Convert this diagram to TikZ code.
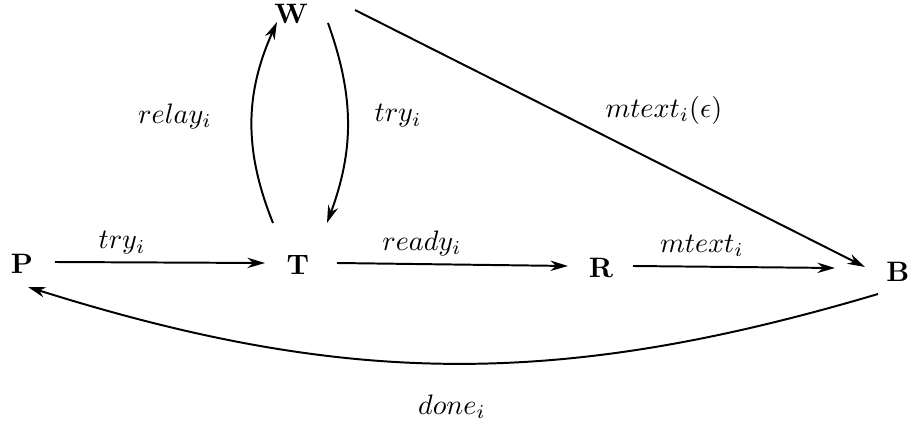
\documentclass[tikz,border=0pt]{standalone}
\usepackage{amsmath,amssymb}
\usetikzlibrary{arrows.meta}

\begin{document}
\begin{tikzpicture}[x=0.0125cm, y=0.0125cm, >={Stealth[length=2.2mm,width=1.3mm]},
	every node/.style={inner sep=0pt}, st/.style={font=\bfseries}, tr/.style={->, line width=0.7pt}]
	\useasboundingbox (0,0) rectangle (911,425);
	% states
	\node[st] (W) at (291,411) {W};
	\node[st] (P) at (22,161) {P};
	\node[st] (T) at (298,160) {T};
	\node[st] (R) at (601,157) {R};
	\node[st] (B) at (898,153) {B};
	% transitions
	\draw[tr] ([shift={(33,2)}]P.center) -- ([shift={(-33,2)}]T.center);
	\draw[tr] ([shift={(39,2)}]T.center) -- ([shift={(-33,2)}]R.center);
	\draw[tr] ([shift={(32,2)}]R.center) -- ([shift={(-63,4)}]B.center);
	\draw[tr] ([shift={(64,4)}]W.center) -- ([shift={(-33,5)}]B.center);
	\draw[tr] ([shift={(-25,42)}]T.center) to[bend left=23] ([shift={(-14,-8)}]W.center);
	\draw[tr] ([shift={(37,-9)}]W.center) to[bend left=20] ([shift={(29,42)}]T.center);
	\draw[tr] ([shift={(-20,-22)}]B.center) to[bend left=17] ([shift={(6,-23)}]P.center);
	% labels
	\node (lrelay) at (175,309) {$relay_i$};
	\node (ltryw) at (398,309) {$try_i$};
	\node (ltryp) at (122,182) {$try_i$};
	\node (lready) at (422,182) {$ready_i$};
	\node (lmtext) at (702,179) {$mtext_i$};
	\node (lmeps) at (664,315) {$mtext_i(\epsilon)$};
	\node (ldone) at (452,18) {$done_i$};
\end{tikzpicture}
\end{document}
